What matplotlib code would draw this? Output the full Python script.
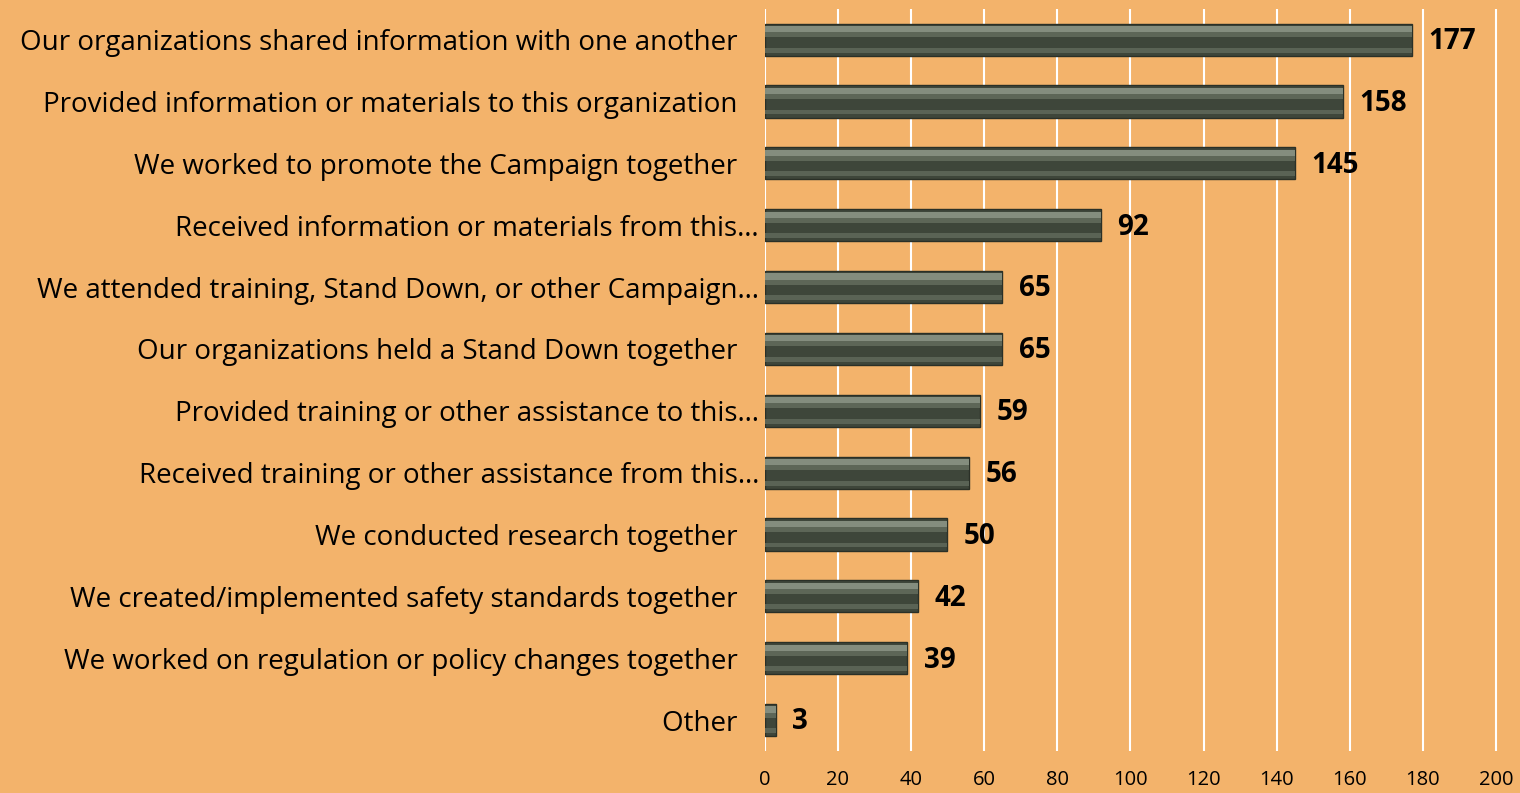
import matplotlib.pyplot as plt
import numpy as np

categories = [
    'Our organizations shared information with one another',
    'Provided information or materials to this organization',
    'We worked to promote the Campaign together',
    'Received information or materials from this\u2026',
    'We attended training, Stand Down, or other Campaign\u2026',
    'Our organizations held a Stand Down together',
    'Provided training or other assistance to this\u2026',
    'Received training or other assistance from this\u2026',
    'We conducted research together',
    'We created/implemented safety standards together',
    'We worked on regulation or policy changes together',
    'Other',
]
values = [177, 158, 145, 92, 65, 65, 59, 56, 50, 42, 39, 3]
xticks = [0, 20, 40, 60, 80, 100, 120, 140, 160, 180, 200]

bg = '#F3B36B'
plt.rcParams['font.family'] = ['Open Sans', 'DejaVu Sans']

fig = plt.figure(figsize=(15.2, 7.93), dpi=100)
fig.patch.set_facecolor(bg)
ax = fig.add_axes([0.503, 0.053, 0.4825, 0.936])
ax.set_facecolor(bg)

y = np.arange(len(categories))
# base bar plus bevel strips
ax.barh(y, values, height=0.52, color='#3e463a', edgecolor='#2a3027', linewidth=1.0, zorder=3)
ax.barh(y - 0.17, values, height=0.1, color='#8c9686', linewidth=0, zorder=4, alpha=0.9)
ax.barh(y - 0.08, values, height=0.08, color='#5d6657', linewidth=0, zorder=4)
ax.barh(y + 0.17, values, height=0.08, color='#5a6355', linewidth=0, zorder=4)

for yi, v in zip(y, values):
    ax.text(v + 4.5, yi + 0.03, str(v), va='center', ha='left', fontsize=20,
            fontweight='bold', color='black', zorder=5)

ax.set_ylim(len(categories) - 0.5, -0.5)
ax.set_xlim(0, 200.5)
ax.set_xticks(xticks)
ax.set_xticklabels([str(t) for t in xticks], fontsize=14.5)
ax.set_yticks(y)
labels = [c if c.endswith('\u2026') else c + '   ' for c in categories]
ax.set_yticklabels(labels, fontsize=20)
ax.tick_params(axis='both', length=0)
ax.tick_params(axis='y', pad=4)
ax.tick_params(axis='x', pad=14)
ax.grid(axis='x', color='white', linewidth=1.5, zorder=0)
for s in ax.spines.values():
    s.set_visible(False)

fig.savefig('out.png', dpi=100, facecolor=bg)
